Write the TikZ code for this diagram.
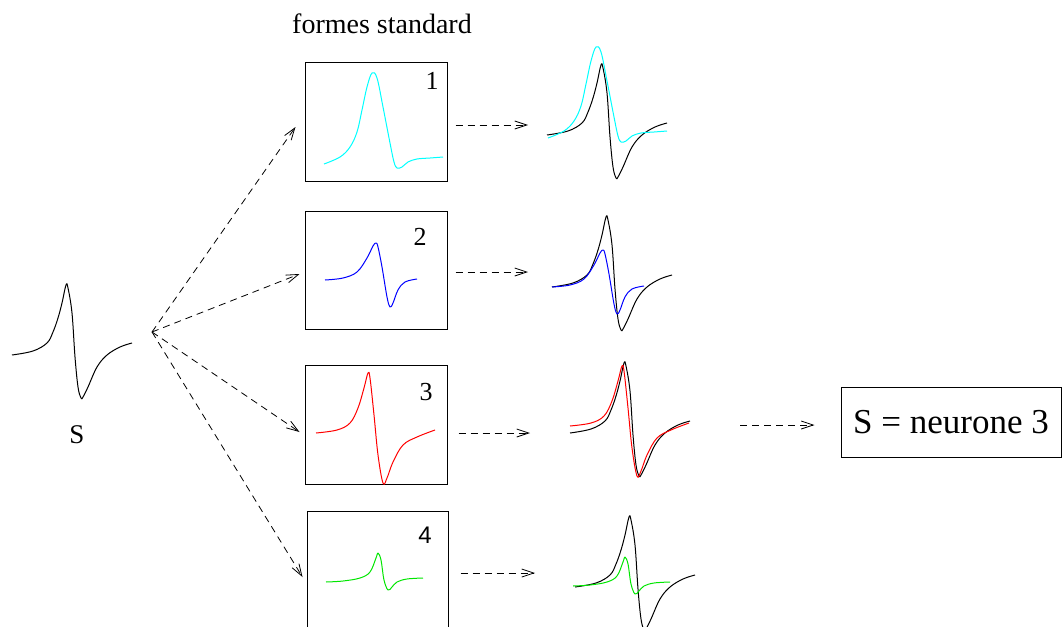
\documentclass[tikz,border=0pt]{standalone}
\usepackage{fontspec}
\setmainfont{Liberation Serif}
\newfontfamily\sansnum{Liberation Sans}
\usetikzlibrary{arrows.meta}
\definecolor{figcyan}{RGB}{0,255,255}
\definecolor{figblue}{RGB}{0,0,255}
\definecolor{figred}{RGB}{255,0,0}
\definecolor{figgreen}{RGB}{0,230,0}

\newcommand{\waveS}[2]{\draw[wave, #1, shift={#2}] plot[smooth, tension=.6] coordinates {(0,0) (21,-4) (35,-12) (41,-23) (46,-37) (50,-52) (54,-70) (56,-67) (60,-42) (63,2) (66,32) (69,43) (71,42) (76,32) (85,12) (95,0) (108,-8) (120,-12)};}
\newcommand{\waveUn}[2]{\draw[wave, #1, shift={#2}] plot[smooth, tension=.6] coordinates {(0,0) (16,-7) (26,-17) (33,-32) (38,-54) (43,-77) (48,-91) (53,-86) (59,-57) (66,-21) (70,-2) (73,4) (78,3) (84,-2) (93,-5) (106,-6) (119,-7)};}
\newcommand{\waveDeux}[2]{\draw[wave, #1, shift={#2}] plot[smooth, tension=.6] coordinates {(0,0) (18,-2) (32,-8) (42,-22) (48,-34) (51,-37) (53,-33) (57,-13) (62,17) (65,27) (68,23) (73,10) (80,2) (92,-1)};}
\newcommand{\waveTrois}[2]{\draw[wave, #1, shift={#2}] plot[smooth, tension=.6] coordinates {(0,0) (21,-3) (34,-10) (42,-25) (48,-45) (52,-60) (54,-55) (58,-18) (62,22) (67,50) (71,45) (77,29) (87,12) (101,4) (119,-3)};}
\newcommand{\waveQuatre}[2]{\draw[wave, #1, shift={#2}] plot[smooth, tension=.6] coordinates {(0,0) (17,-1) (34,-4) (44,-10) (50,-24) (52,-29) (55,-22) (58,-2) (62,8) (66,5) (71,0) (81,-3) (97,-4)};}

\begin{document}
\begin{tikzpicture}[x=1pt, y=-1pt,
    forme/.style={draw, line width=1pt, minimum width=142pt, minimum height=118pt, inner sep=0pt},
    wave/.style={line width=1pt, line join=round},
    fleche/.style={dash pattern=on 7pt off 5pt, line width=.8pt,
                   -{Straight Barb[length=12pt, width=8pt]}},
    chiffre/.style={anchor=base, inner sep=0pt, font=\fontsize{26}{30}\selectfont}]
  \useasboundingbox (0,0) rectangle (1062,626);

  \node[anchor=base, inner sep=0pt, font=\fontsize{28}{34}\selectfont] (titre) at (382,34) {formes standard};

  \node[forme] (box1) at (376,122) {};
  \node[forme] (box2) at (376,270) {};
  \node[forme, minimum height=119pt] (box3) at (376,424.5) {};
  \node[forme, minimum width=141pt] (box4) at (377.5,570) {};

  \node[chiffre] (n1) at (432,89) {1};
  \node[chiffre] (n2) at (420,245) {2};
  \node[chiffre] (n3) at (426,400) {3};
  \node[chiffre, font=\sansnum\fontsize{24}{28}\selectfont] (n4) at (425,543) {4};

  \waveS{black}{(12,355)}
  \node[anchor=base, inner sep=0pt, font=\fontsize{27}{32}\selectfont] (slab) at (77,443) {S};

  \waveUn{figcyan}{(324,164)}
  \waveDeux{figblue}{(325,280)}
  \waveTrois{figred}{(316,433)}
  \waveQuatre{figgreen}{(326,582)}

  \waveS{black}{(547,135)}
  \waveUn{figcyan}{(548,138)}
  \waveS{black}{(552,287)}
  \waveDeux{figblue}{(552,287)}
  \waveS{black}{(570,433)}
  \waveTrois{figred}{(570,426)}
  \waveS{black}{(575,587)}
  \waveQuatre{figgreen}{(573,586)}

  \node[draw, line width=1pt, minimum width=220pt, minimum height=70pt,
        font=\fontsize{35}{40}\selectfont] (res) at (951,422) {S = neurone 3};

  \coordinate (fan) at (152,332);
  \draw[fleche] (fan) -- ([shift={(-9,5)}]box1.west);
  \draw[fleche] (fan) -- ([shift={(-5,4)}]box2.west);
  \draw[fleche] (fan) -- ([shift={(-5,7.5)}]box3.west);
  \draw[fleche] (fan) -- ([shift={(-4,7)}]box4.west);

  \coordinate (ov1) at (528,125);
  \coordinate (ov2) at (528,272);
  \coordinate (ov3) at (530,433);
  \coordinate (ov4) at (535,573);
  \draw[fleche] ([shift={(8,3)}]box1.east) -- (ov1);
  \draw[fleche] ([shift={(8,2)}]box2.east) -- (ov2);
  \draw[fleche] ([shift={(11,8.5)}]box3.east) -- (ov3);
  \draw[fleche] ([shift={(12,3)}]box4.east) -- (ov4);

  \coordinate (dec) at (740,425);
  \draw[fleche] (dec) -- ([shift={(-26,3)}]res.west);
\end{tikzpicture}
\end{document}
